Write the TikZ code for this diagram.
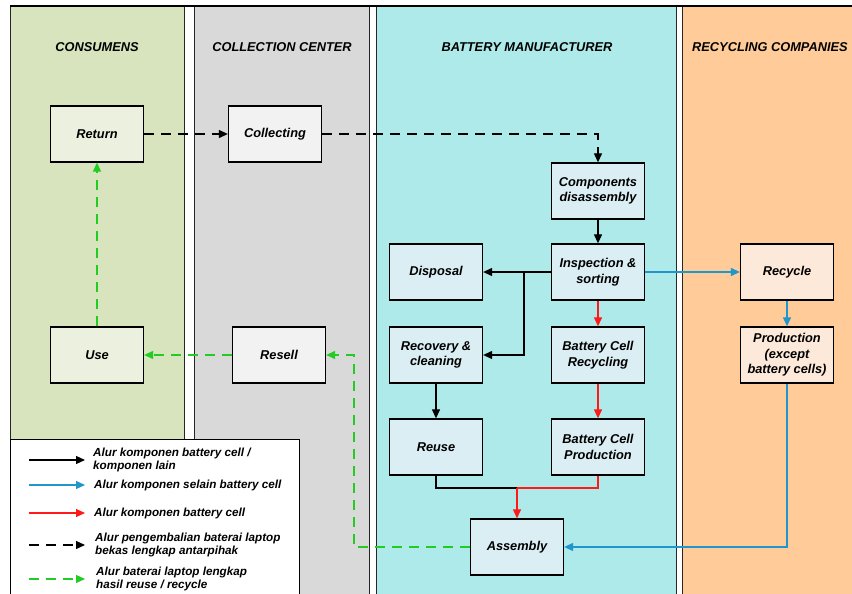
\documentclass[tikz,border=0pt]{standalone}
\usepackage{fontspec}
\setmainfont{Liberation Sans}
\usetikzlibrary{arrows.meta}
\definecolor{laneA}{HTML}{D7E4BD}
\definecolor{laneB}{HTML}{D9D9D9}
\definecolor{laneC}{HTML}{AFEAEA}
\definecolor{laneD}{HTML}{FFCC99}
\definecolor{boxA}{HTML}{EBF1DE}
\definecolor{boxB}{HTML}{F2F2F2}
\definecolor{boxC}{HTML}{DAEEF3}
\definecolor{boxD}{HTML}{FDE9D9}
\definecolor{flowblue}{HTML}{1F97CC}
\definecolor{flowgreen}{HTML}{22CC22}
\definecolor{flowred}{HTML}{FF1A1A}
\tikzset{
  lane/.style={draw=black!85, line width=1pt},
  lanetitle/.style={font=\fontsize{12.8}{14}\selectfont\bfseries\itshape},
  proc/.style={draw=black, line width=1.3pt, minimum width=93pt, minimum height=56pt,
    align=center, inner sep=2pt, font=\fontsize{12.8}{15.5}\selectfont\bfseries\itshape},
  legtext/.style={anchor=west, align=left, inner sep=0pt, font=\fontsize{11.7}{13.5}\selectfont\bfseries\itshape},
  tip/.style={-{Triangle[length=9pt,width=8pt]}},
  blk/.style={tip, draw=black, line width=1.2pt},
  bluef/.style={tip, draw=flowblue, line width=1.2pt, flowblue},
  redf/.style={tip, draw=flowred, line width=1.2pt, flowred},
  dashblk/.style={tip, draw=black, line width=1.2pt, dash pattern=on 10pt off 7pt},
  dashgrn/.style={tip, draw=flowgreen, line width=1.2pt, flowgreen, dash pattern=on 10pt off 7pt},
}
\begin{document}
\begin{tikzpicture}[x=1pt,y=-1pt]
\useasboundingbox (0,0) rectangle (852,594);
\fill[white] (0,0) rectangle (852,594);
% lanes
\filldraw[lane, fill=laneA] (10,6) rectangle (184,600);
\filldraw[lane, fill=laneB] (194,6) rectangle (369,600);
\filldraw[lane, fill=laneC] (376,6) rectangle (676,600);
\filldraw[lane, fill=laneD] (682,6) rectangle (860,600);
\draw[line width=2pt] (10,6) -- (860,6);
% lane titles
\node[lanetitle] (tA) at (97,47) {CONSUMENS};
\node[lanetitle] (tB) at (282,47) {COLLECTION CENTER};
\node[lanetitle] (tC) at (527,47) {BATTERY MANUFACTURER};
\node[lanetitle, anchor=west, inner sep=0pt] (tD) at (692,47) {RECYCLING COMPANIES};
% nodes
\node[proc, fill=boxA] (return) at (97,134) {Return};
\node[proc, fill=boxB] (collecting) at (275,134) {Collecting};
\node[proc, fill=boxC] (comp) at (598,191) {Components\\disassembly};
\node[proc, fill=boxC] (insp) at (598,272) {Inspection \&\\sorting};
\node[proc, fill=boxC] (disp) at (436,272) {Disposal};
\node[proc, fill=boxC] (recov) at (436,355) {Recovery \&\\cleaning};
\node[proc, fill=boxC] (bcr) at (598,355) {Battery Cell\\Recycling};
\node[proc, fill=boxD] (recyc) at (787,272) {Recycle};
\node[proc, fill=boxD] (prod) at (787,355) {Production\\(except\\battery cells)};
\node[proc, fill=boxC] (reuse) at (436,447) {Reuse};
\node[proc, fill=boxC] (bcp) at (598,447) {Battery Cell\\Production};
\node[proc, fill=boxC] (assembly) at (517,547) {Assembly};
\node[proc, fill=boxB] (resell) at (279,355) {Resell};
\node[proc, fill=boxA] (use) at (97,355) {Use};
% connectors
\draw[dashblk] (return) -- (collecting);
\draw[dashblk] (collecting.east) -| (comp.north);
\draw[blk] (comp) -- (insp);
\draw[blk] (insp.west) -- (disp.east);
\coordinate (br) at (524,272);
\draw[blk] (br) |- (recov.east);
\draw[redf] (insp) -- (bcr);
\draw[redf] (bcr) -- (bcp);
\draw[bluef] (insp.east) -- (recyc.west);
\draw[bluef] (recyc) -- (prod);
\draw[bluef] (prod.south) |- (assembly.east);
\draw[blk] (recov) -- (reuse);
\coordinate (jn) at (517,488);
\draw[black, line width=1.2pt] (reuse.south) |- (jn);
\draw[flowred, line width=1.2pt] (bcp.south) |- (jn);
\draw[redf] (jn) -- (assembly.north);
\coordinate (gb) at (354,355);
\draw[dashgrn] (assembly.west) -| (gb) -- (resell.east);
\draw[dashgrn] (resell) -- (use);
\draw[dashgrn] (use) -- (return);
% legend
\filldraw[draw=black, line width=1pt, fill=white] (10,439) rectangle (299,600);
\coordinate (l1a) at (29,460); \coordinate (l1b) at (85,460);
\coordinate (l2a) at (29,485); \coordinate (l2b) at (85,485);
\coordinate (l3a) at (29,513); \coordinate (l3b) at (85,513);
\coordinate (l4a) at (29,545); \coordinate (l4b) at (85,545);
\coordinate (l5a) at (29,579); \coordinate (l5b) at (85,579);
\draw[blk] (l1a) -- (l1b);
\draw[bluef] (l2a) -- (l2b);
\draw[redf] (l3a) -- (l3b);
\draw[dashblk] (l4a) -- (l4b);
\draw[dashgrn] (l5a) -- (l5b);
\node[legtext] (g1) at (93,460) {Alur komponen battery cell /\\komponen lain};
\node[legtext] (g2) at (94,485) {Alur komponen selain battery cell};
\node[legtext] (g3) at (94,513) {Alur komponen battery cell};
\node[legtext] (g4) at (95,545) {Alur pengembalian baterai laptop\\bekas lengkap antarpihak};
\node[legtext] (g5) at (96,579) {Alur baterai laptop lengkap\\hasil reuse / recycle};
\end{tikzpicture}
\end{document}
